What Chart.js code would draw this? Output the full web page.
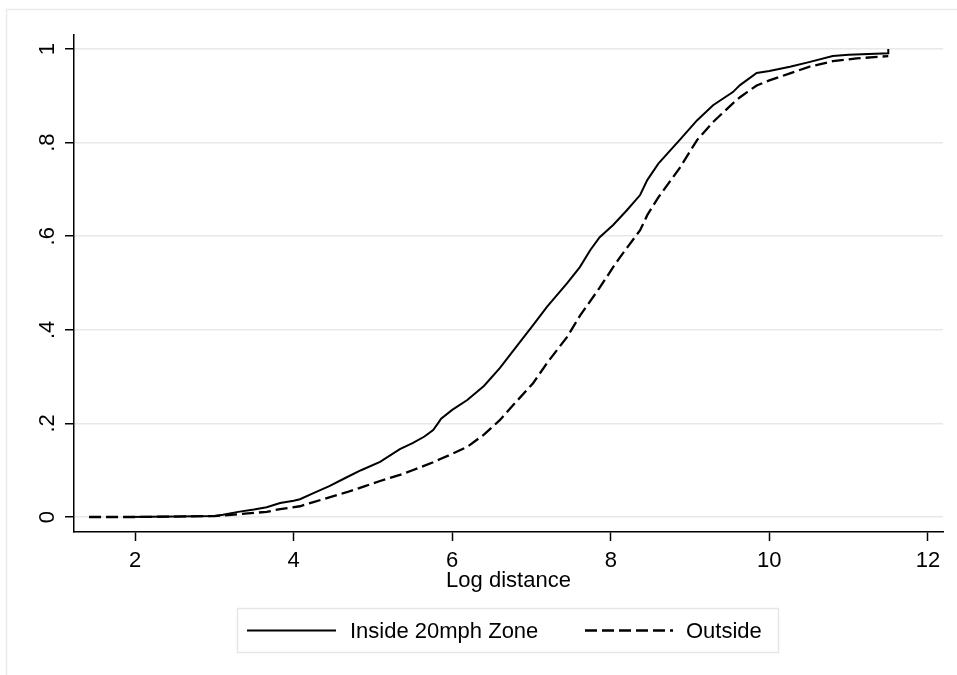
<!DOCTYPE html>
<html>
<head>
<meta charset="utf-8">
<script src="https://cdn.jsdelivr.net/npm/chart.js@4"></script>
<style>
  html, body { margin: 0; padding: 0; background: #fff; }
  #wrap { width: 957px; height: 675px; position: relative; }
</style>
</head>
<body>
<div id="wrap"><canvas id="grafico" width="957" height="675"></canvas></div>
<script>
// cumulative share of crashes by log distance
const xTicks = [2, 4, 6, 8, 10, 12];
const yTicks = [0, 0.2, 0.4, 0.6, 0.8, 1];
const yTickLabels = ['0', '.2', '.4', '.6', '.8', '1'];

const seriesNames = ['Inside 20mph Zone', 'Outside'];

const insideX = [1.9, 2.5, 3.0, 3.11, 3.3, 3.5, 3.66, 3.83, 4.0, 4.08, 4.25, 4.45, 4.67, 4.85, 5.09, 5.34, 5.5, 5.65, 5.76, 5.82, 5.86, 6.0, 6.19, 6.4, 6.6, 6.8, 7.02, 7.2, 7.45, 7.61, 7.74, 7.86, 8.03, 8.2, 8.37, 8.46, 8.6, 8.87, 9.09, 9.29, 9.54, 9.63, 9.84, 10.0, 10.26, 10.5, 10.8, 11.0, 11.5, 11.5];
const insideY = [0, 0.001, 0.002, 0.005, 0.011, 0.016, 0.021, 0.03, 0.035, 0.038, 0.051, 0.066, 0.085, 0.1, 0.118, 0.145, 0.158, 0.172, 0.186, 0.2, 0.21, 0.229, 0.25, 0.28, 0.318, 0.362, 0.41, 0.45, 0.5, 0.534, 0.57, 0.598, 0.624, 0.655, 0.688, 0.72, 0.755, 0.806, 0.848, 0.88, 0.908, 0.923, 0.949, 0.953, 0.962, 0.972, 0.985, 0.988, 0.991, 1.0];

const outsideX = [1.42, 2.0, 2.5, 3.0, 3.3, 3.66, 3.83, 4.08, 4.25, 4.45, 4.67, 4.9, 5.09, 5.34, 5.5, 5.76, 5.85, 6.0, 6.19, 6.4, 6.6, 6.8, 7.02, 7.2, 7.45, 7.61, 7.86, 8.03, 8.12, 8.37, 8.46, 8.6, 8.87, 9.09, 9.29, 9.54, 9.63, 9.72, 9.84, 10.0, 10.26, 10.5, 10.8, 11.1, 11.5];
const outsideY = [0, 0, 0.001, 0.002, 0.006, 0.011, 0.017, 0.023, 0.032, 0.042, 0.053, 0.066, 0.077, 0.09, 0.1, 0.117, 0.124, 0.135, 0.15, 0.176, 0.207, 0.245, 0.286, 0.33, 0.385, 0.43, 0.49, 0.534, 0.556, 0.613, 0.645, 0.683, 0.746, 0.806, 0.844, 0.884, 0.897, 0.908, 0.922, 0.933, 0.948, 0.962, 0.974, 0.98, 0.985];

const FONTE = '"Liberation Sans", Arial, Helvetica, sans-serif';
const TAM = 22;

function pontos(xs, ys) {
    return xs.map((x, i) => ({ x: x, y: ys[i] }));
}

// moldura clara em volta de todo o grafico
const moldura = {
    id: 'moldura',
    beforeDraw(chart) {
        const ctx = chart.ctx;
        ctx.save();
        ctx.fillStyle = '#fff';
        ctx.fillRect(0, 0, chart.width, chart.height);
        ctx.strokeStyle = '#ececec';
        ctx.lineWidth = 1.5;
        ctx.strokeRect(6.5, 9.5, chart.width + 20, chart.height + 20);
        ctx.restore();
    }
};

// rotulos do eixo y girados 90 graus
const rotulosY = {
    id: 'rotulosY',
    afterDraw(chart) {
        const ctx = chart.ctx;
        const y = chart.scales.y;
        ctx.save();
        ctx.fillStyle = '#000';
        ctx.font = TAM + 'px ' + FONTE;
        ctx.textAlign = 'center';
        ctx.textBaseline = 'middle';
        yTicks.forEach((v, i) => {
            const py = y.getPixelForValue(v);
            ctx.save();
            ctx.translate(48, py);
            ctx.rotate(-Math.PI / 2);
            ctx.fillText(yTickLabels[i], 0, 0);
            ctx.restore();
        });
        ctx.restore();
    }
};

// legenda em caixa abaixo do eixo x
const legenda = {
    id: 'legenda',
    afterDraw(chart) {
        const ctx = chart.ctx;
        const ds = chart.data.datasets;
        ctx.save();
        ctx.strokeStyle = '#e6e6e6';
        ctx.lineWidth = 1.5;
        ctx.strokeRect(237.5, 608.5, 541, 44);

        const linhaY = 630.5;
        const itens = [
            { x0: 247, x1: 336, tx: 350 },
            { x0: 585, x1: 673, tx: 686 }
        ];
        ctx.font = TAM + 'px ' + FONTE;
        ctx.textAlign = 'left';
        ctx.textBaseline = 'middle';
        itens.forEach((it, i) => {
            ctx.strokeStyle = '#000';
            ctx.lineWidth = ds[i].borderWidth;
            ctx.setLineDash(ds[i].borderDash || []);
            ctx.beginPath();
            ctx.moveTo(it.x0, linhaY);
            ctx.lineTo(it.x1, linhaY);
            ctx.stroke();
            ctx.setLineDash([]);
            ctx.fillStyle = '#000';
            ctx.fillText(ds[i].label, it.tx, linhaY + 1);
        });
        ctx.restore();
    }
};

const grafico = new Chart(document.getElementById('grafico'), {
    type: 'line',
    data: {
        datasets: [
            {
                label: seriesNames[0],
                data: pontos(insideX, insideY),
                borderColor: '#000',
                borderWidth: 2,
                pointRadius: 0,
                tension: 0,
                fill: false
            },
            {
                label: seriesNames[1],
                data: pontos(outsideX, outsideY),
                borderColor: '#000',
                borderWidth: 2.3,
                borderDash: [12, 5],
                pointRadius: 0,
                tension: 0,
                fill: false
            }
        ]
    },
    options: {
        responsive: false,
        animation: false,
        events: [],
        layout: { padding: { left: 0, top: 35, right: 14, bottom: 81 } },
        plugins: {
            legend: { display: false },
            tooltip: { enabled: false }
        },
        scales: {
            x: {
                type: 'linear',
                min: 1.23,
                max: 12.19,
                afterBuildTicks: s => { s.ticks = xTicks.map(v => ({ value: v })); },
                afterFit: s => { s.height = 62; },
                grid: {
                    drawOnChartArea: false,
                    drawTicks: true,
                    tickLength: 9,
                    tickColor: '#000',
                    tickWidth: 1.5
                },
                border: { color: '#000', width: 1.5 },
                ticks: {
                    color: '#000',
                    font: { family: FONTE, size: TAM },
                    padding: 7,
                    maxRotation: 0,
                    callback: v => String(v)
                },
                title: {
                    display: true,
                    text: 'Log distance',
                    color: '#000',
                    font: { family: FONTE, size: TAM },
                    padding: 0
                }
            },
            y: {
                type: 'linear',
                min: -0.032,
                max: 1.03,
                afterBuildTicks: s => { s.ticks = yTicks.map(v => ({ value: v })); },
                afterFit: s => { s.width = 74; },
                grid: {
                    color: '#e8e8e8',
                    lineWidth: 1.5,
                    drawTicks: true,
                    tickLength: 9,
                    tickColor: '#000',
                    tickWidth: 1.5
                },
                border: { color: '#000', width: 1.5 },
                ticks: { display: false }
            }
        }
    },
    plugins: [moldura, rotulosY, legenda]
});
</script>
</body>
</html>
